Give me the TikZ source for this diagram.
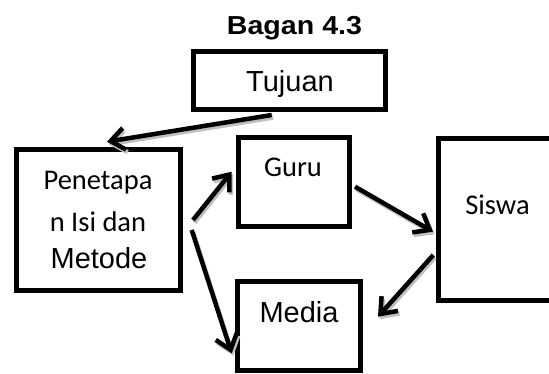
\documentclass[tikz,border=0pt]{standalone}
\usepackage{fontspec}
\setmainfont{Liberation Sans}
\newfontfamily\calib{Carlito}
\usetikzlibrary{arrows.meta}
\begin{document}
\begin{tikzpicture}[x=1pt,y=1pt,
  box/.style={draw, line width=5pt, inner sep=0pt, rectangle},
  lbl/.style={inner sep=0pt, anchor=base, font=\fontsize{29}{31}\selectfont},
  clbl/.style={inner sep=0pt, anchor=base, font=\calib\fontsize{28.5}{30}\selectfont},
  arr/.style={line width=4.5pt, -{Straight Barb[length=14pt,width=22pt]}},
  shd/.style={arr, draw=gray!50, transform canvas={shift={(1.5pt,-2.5pt)}}}]
\useasboundingbox (0,0) rectangle (549,374);
\clip (0,0) rectangle (549,374);
% title
\node[inner sep=0pt, anchor=base, font=\bfseries\fontsize{26}{28}\selectfont, xscale=1.1] (title) at (294.5,339) {Bagan 4.3};
% boxes
\node[box, minimum width=192pt, minimum height=58pt] (tuj) at (289,293) {};
\node[box, minimum width=164pt, minimum height=140.5pt] (pen) at (98,154.2) {};
\node[box, minimum width=111pt, minimum height=89pt] (guru) at (293.5,191.5) {};
\node[box, minimum width=122pt, minimum height=161.5pt] (sis) at (499,154.25) {};
\node[box, minimum width=122.75pt, minimum height=89pt] (med) at (299.1,47.5) {};
% texts
\node[lbl] (tujt) at (290,282.3) {Tujuan};
\node[clbl] (pen1) at (98,184) {Penetapa};
\node[clbl] (pen2) at (98,142.3) {n Isi dan};
\node[lbl] (pen3) at (99,105) {Metode};
\node[clbl] (gurut) at (293,197.3) {Guru};
\node[clbl] (sist) at (497.5,159) {Siswa};
\node[lbl] (medt) at (299,51.3) {Media};
% connector ends
\coordinate (a1s) at (271.7,259);
\coordinate (a1e) at (107,232.3);
\coordinate (a2s) at (193,154);
\coordinate (a2e) at (231.7,202.3);
\coordinate (a3s) at (191.7,144);
\coordinate (a3e) at (231.7,20.7);
\coordinate (a4s) at (355,187.3);
\coordinate (a4e) at (433,142.3);
\coordinate (a5s) at (433.3,119);
\coordinate (a5e) at (378,57.3);
% shadows
\draw[shd] (a1s) -- (a1e);
\draw[shd] (a2s) -- (a2e);
\draw[shd] (a3s) -- (a3e);
\draw[shd] (a4s) -- (a4e);
\draw[shd] (a5s) -- (a5e);
% arrows
\draw[arr] (a1s) -- (a1e);
\draw[arr] (a2s) -- (a2e);
\draw[arr] (a3s) -- (a3e);
\draw[arr] (a4s) -- (a4e);
\draw[arr] (a5s) -- (a5e);
\end{tikzpicture}
\end{document}
